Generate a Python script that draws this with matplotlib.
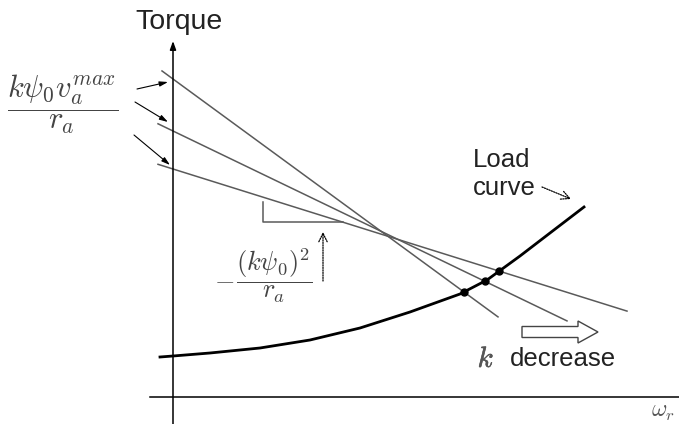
import numpy as np
import matplotlib
matplotlib.use("Agg")
import matplotlib.pyplot as plt
import matplotlib.patheffects as pe
from matplotlib.patches import FancyArrow

plt.rcParams['font.family'] = ['Liberation Sans', 'DejaVu Sans']
plt.rcParams['mathtext.fontset'] = 'cm'

# Torque-speed lines for three values of k: intercept, slope, omega span
line_t0 = [318, 266, 228]
line_slope = [-0.732, -0.482, -0.313]
line_w_start = [-11, -15, -15]
line_w_end = [325, 394, 454]

# load curve samples (omega, torque)
load_w = [-13, 0, 37, 87, 137, 187, 237, 287, 314, 347, 377, 411]
load_t = [40, 41, 44, 49, 57, 69, 85, 103, 117, 141, 164, 190]

GRAY = '#5a5a5a'
TXT = '#222222'
MATH = '#444444'

fig = plt.figure(figsize=(6.79, 4.24), dpi=100)
ax = fig.add_axes([0, 0, 1, 1])
ax.set_xlim(-173, 506)
ax.set_ylim(-27, 397)
ax.axis('off')

# axes of the diagram
ax.plot([-23, 506], [0, 0], color='black', lw=1.1)
ax.annotate('', xy=(0, 356), xytext=(0, -30),
            arrowprops=dict(arrowstyle='-|>,head_length=0.5,head_width=0.18',
                            color='black', lw=1.1, shrinkA=0, shrinkB=0))
ax.text(6, 375, 'Torque', fontsize=20.5, color=TXT, ha='center', va='center')
ax.text(478, -15, r'$\omega_r$', fontsize=17, color='#555555', ha='left',
        va='center')

# straight torque lines
for t0, s, w0, w1 in zip(line_t0, line_slope, line_w_start, line_w_end):
    w = np.array([w0, w1])
    ax.plot(w, t0 + s * w, color=GRAY, lw=1.1)

# load curve
lw_arr = np.array(load_w, dtype=float)
lt_arr = np.array(load_t, dtype=float)
ax.plot(lw_arr, lt_arr, color='black', lw=2.0, solid_joinstyle='round')

# operating points where each line meets the load curve
grid = np.linspace(lw_arr[0], lw_arr[-1], 2000)
load_on_grid = np.interp(grid, lw_arr, lt_arr)
for t0, s in zip(line_t0, line_slope):
    diff = t0 + s * grid - load_on_grid
    i = np.where(np.diff(np.sign(diff)) != 0)[0][0]
    ax.plot(grid[i], load_on_grid[i], 'o', color='black', ms=5)

# label for the intercepts with pointers to each line
ax.text(-110, 293, r'$\dfrac{k\psi_{\mathsf{0}} v_a^{max}}{r_a}$', fontsize=22,
        color=MATH, ha='center', va='center')
for (x0, y0), (x1, y1) in [((-36, 308), (-5, 315)),
                           ((-38, 295), (-5, 275)),
                           ((-39, 262), (-3, 232))]:
    ax.annotate('', xy=(x1, y1), xytext=(x0, y0),
                arrowprops=dict(arrowstyle='-|>,head_length=0.5,head_width=0.15',
                                color='black', lw=0.8, shrinkA=0, shrinkB=0))

# slope triangle
ax.plot([90, 90, 170], [195, 175, 175], color=GRAY, lw=1.1)
ax.text(51, 117, r'$-$', fontsize=19, color=MATH, ha='center',
        va='center')
ax.text(101, 121, r'$\dfrac{(k\psi_{\mathsf{0}})^2}{r_a}$', fontsize=19,
        color=MATH, ha='center', va='center')
ax.annotate('', xy=(150, 165), xytext=(150, 116),
            arrowprops=dict(arrowstyle='->,head_length=0.6,head_width=0.3',
                            color='black', lw=0.9, ls=(0, (1, 1)),
                            shrinkA=0, shrinkB=0))

# load curve label
ax.text(300, 223, 'Load\ncurve', fontsize=18.5, color=TXT, ha='left',
        va='center', linespacing=1.25)
ax.annotate('', xy=(398, 198), xytext=(369, 210),
            arrowprops=dict(arrowstyle='->,head_length=0.6,head_width=0.3',
                            color='black', lw=0.9, ls=(0, (1, 1)),
                            shrinkA=0, shrinkB=0))

# direction of decreasing k
ax.add_patch(FancyArrow(349, 65, 56, 0, width=11, head_width=22,
                        head_length=20, length_includes_head=False,
                        facecolor='white', edgecolor='#444444', lw=1.0))
ax.text(313, 38, r'$k$', fontsize=21, color='#555555', ha='center',
        va='center',
        path_effects=[pe.withStroke(linewidth=0.4, foreground='#555555')])
ax.text(337, 38, 'decrease', fontsize=18.5, color=TXT, ha='left',
        va='center')

fig.savefig('out.png', dpi=100)
